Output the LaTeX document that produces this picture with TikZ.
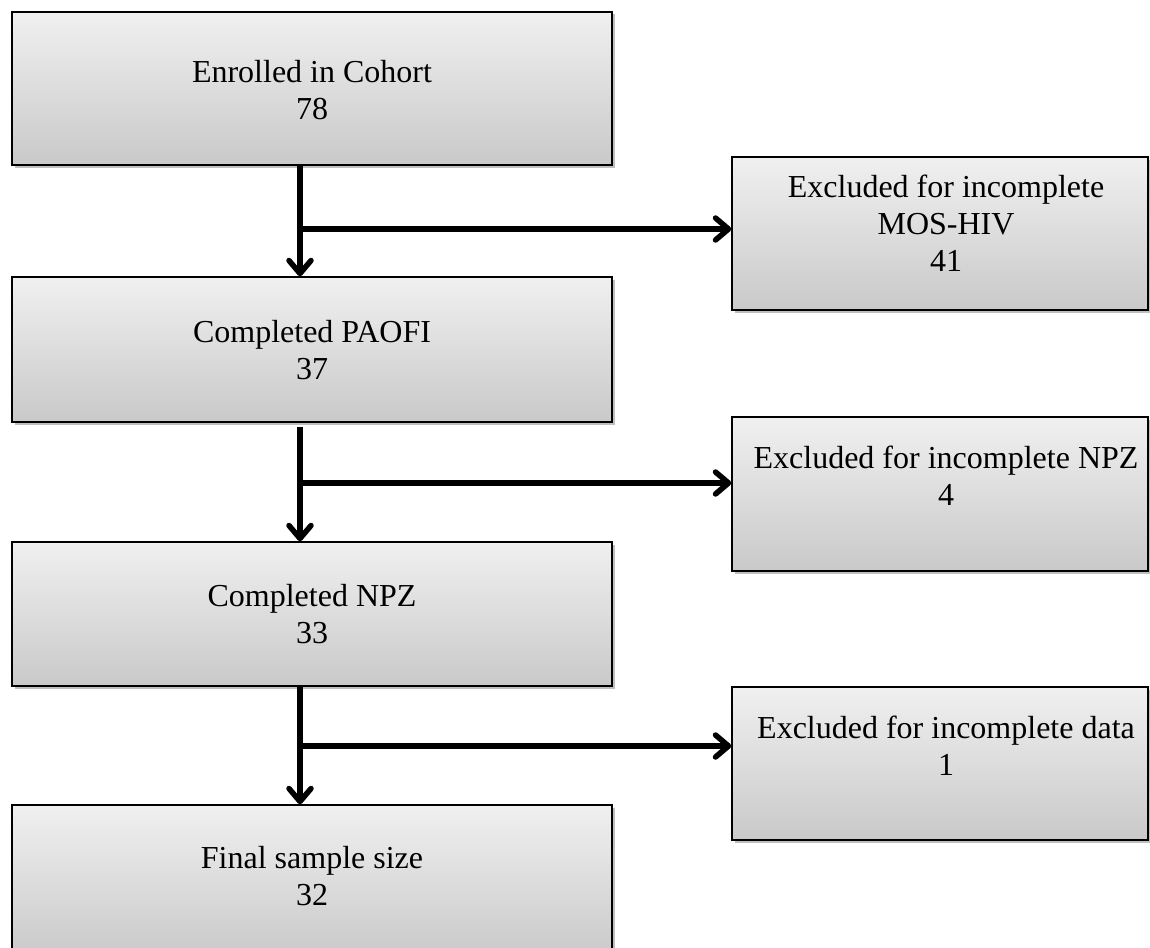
\documentclass[tikz,border=0pt]{standalone}
\usepackage{fontspec}
\setmainfont{Liberation Serif}
\usetikzlibrary{arrows.meta,shadows}
\definecolor{boxtop}{HTML}{F0F0F0}
\definecolor{boxbot}{HTML}{C9C9C9}
\tikzset{
  flowbox/.style={rectangle, draw=black, line width=1.5pt, top color=boxtop, bottom color=boxbot,
    inner sep=0pt, drop shadow={shadow xshift=2.5pt, shadow yshift=-2.5pt, opacity=0.25, fill=black}},
  leftbox/.style={flowbox, minimum width=600pt},
  rightbox/.style={flowbox, minimum width=416pt},
  txt/.style={inner sep=0pt, align=center, anchor=north, font=\fontsize{32pt}{37pt}\selectfont},
  arr/.style={line width=5.5pt, -{Straight Barb[length=13pt, width=22pt, round]},
    preaction={draw=black, opacity=0.15, transform canvas={shift={(1.5pt,-2pt)}}}}
}
\begin{document}
\begin{tikzpicture}[x=1pt,y=-1pt]
\useasboundingbox (0,0) rectangle (1150,947);
\clip (0,0) rectangle (1150,947);
% left column boxes
\node[leftbox, minimum height=153pt] (b1) at (312,88.5) {};
\node[leftbox, minimum height=145pt] (b2) at (312,349.5) {};
\node[leftbox, minimum height=144pt] (b3) at (312,614) {};
\node[leftbox, minimum height=153pt] (b4) at (312,881.5) {};
% right column boxes
\node[rightbox, minimum height=153pt] (r1) at (940,233.5) {};
\node[rightbox, minimum height=154pt] (r2) at (940,494) {};
\node[rightbox, minimum height=153pt] (r3) at (940,763.5) {};
% texts
\node[txt] (t1) at (312,60) {Enrolled in Cohort\\78};
\node[txt] (t2) at (312,320) {Completed PAOFI\\37};
\node[txt] (t3) at (312,584.5) {Completed NPZ\\33};
\node[txt] (t4) at (312,846) {Final sample size\\32};
\node[txt] (s1) at (946,175) {Excluded for incomplete\\MOS-HIV\\41};
\node[txt] (s2) at (946,446) {Excluded for incomplete NPZ\\4};
\node[txt] (s3) at (946,716) {Excluded for incomplete data\\1};
% junctions
\coordinate (j1) at (300,229);
\coordinate (j2) at (300,483);
\coordinate (j3) at (300,746);
% connectors
\draw[arr] (b1.south -| j1) -- (b2.north -| j1);
\draw[arr] (j1) -- (j1 -| r1.west);
\draw[arr] ([yshift=-4pt]b2.south -| j2) -- (b3.north -| j2);
\draw[arr] (j2) -- (j2 -| r2.west);
\draw[arr] (b3.south -| j3) -- (b4.north -| j3);
\draw[arr] (j3) -- (j3 -| r3.west);
\end{tikzpicture}
\end{document}
